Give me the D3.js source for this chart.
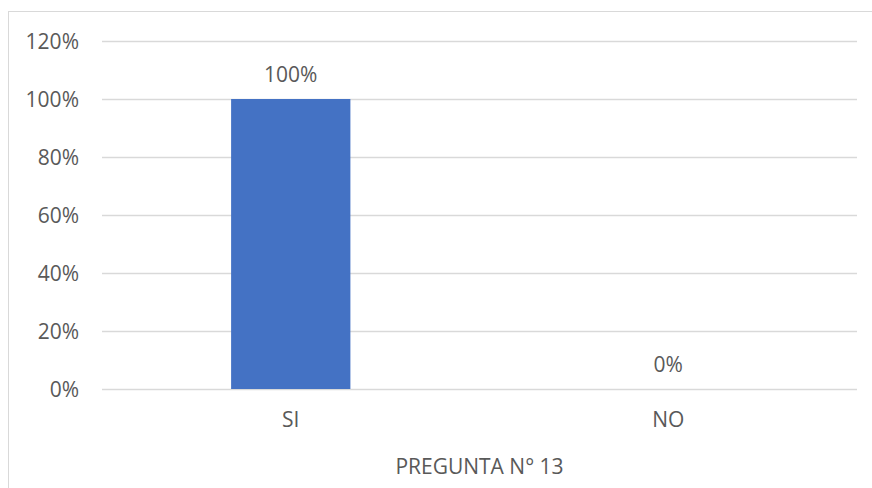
<!DOCTYPE html>
<html>
<head>
<meta charset="utf-8">
<script src="https://cdn.jsdelivr.net/npm/d3@7"></script>
<style>
  html, body { margin: 0; padding: 0; background: #fff; }
  svg { display: block; }
  text { font-family: "Open Sans", "Noto Sans", sans-serif; fill: #595959; }
</style>
</head>
<body>
<svg id="chart" width="872" height="488"></svg>
<script>
// Answers to question 13
const categories = ["SI", "NO"];
const values = [1.0, 0.0];
const tickValues = [0, 0.2, 0.4, 0.6, 0.8, 1.0, 1.2];
const axisTitle = "PREGUNTA N° 13";

const svg = d3.select("#chart");
const W = 872, H = 488;
const plot = { left: 102, right: 857, top: 41, bottom: 389 };
const fontSize = "21px";

// Chart frame
svg.append("rect")
  .attr("x", 8.5).attr("y", 11.5)
  .attr("width", W + 10).attr("height", H + 10)
  .attr("fill", "#fff")
  .attr("stroke", "#d9d9d9").attr("stroke-width", 1);

const x = d3.scaleBand()
  .domain(categories)
  .range([plot.left, plot.right])
  .paddingInner(0.684)
  .paddingOuter(0.342);

const y = d3.scaleLinear()
  .domain([0, 1.2])
  .range([plot.bottom, plot.top]);

const fmt = d3.format(".0%");

// Horizontal gridlines
svg.append("g")
  .selectAll("line")
  .data(tickValues)
  .join("line")
  .attr("x1", plot.left).attr("x2", plot.right)
  .attr("y1", d => Math.round(y(d)) + 0.5)
  .attr("y2", d => Math.round(y(d)) + 0.5)
  .attr("stroke", "#d9d9d9").attr("stroke-width", 1.5);

// Y axis labels
const yAxis = d3.axisLeft(y).tickValues(tickValues).tickFormat(fmt).tickSize(0).tickPadding(23);
const gy = svg.append("g").attr("transform", `translate(${plot.left},0)`).call(yAxis);
gy.select(".domain").remove();
gy.selectAll("text")
  .style("font-size", fontSize)
  .attr("fill", "#595959")
  .attr("dy", "0.36em");

// Bars
svg.append("g")
  .selectAll("rect")
  .data(categories)
  .join("rect")
  .attr("x", d => x(d))
  .attr("width", x.bandwidth())
  .attr("y", (d, i) => y(values[i]))
  .attr("height", (d, i) => y(0) - y(values[i]))
  .attr("fill", "#4472c4");

// Value labels
svg.append("g")
  .selectAll("text")
  .data(categories)
  .join("text")
  .attr("x", d => x(d) + x.bandwidth() / 2)
  .attr("y", (d, i) => y(values[i]) - 17)
  .attr("text-anchor", "middle")
  .style("font-size", fontSize)
  .text((d, i) => fmt(values[i]));

// X axis category labels
const xAxis = d3.axisBottom(x).tickSize(0).tickPadding(0);
const gx = svg.append("g").attr("transform", `translate(0,${plot.bottom})`).call(xAxis);
gx.select(".domain").remove();
gx.selectAll("text")
  .style("font-size", fontSize)
  .attr("fill", "#595959")
  .attr("y", 38)
  .attr("dy", 0);

// Axis title
svg.append("text")
  .attr("x", (plot.left + plot.right) / 2)
  .attr("y", 474)
  .attr("text-anchor", "middle")
  .style("font-size", fontSize)
  .text(axisTitle);
</script>
</body>
</html>
